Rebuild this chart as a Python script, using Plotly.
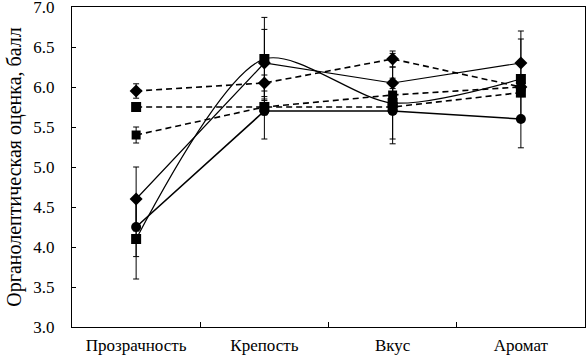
import plotly.graph_objects as go

categories = ["Прозрачность", "Крепость", "Вкус", "Аромат"]

s1_diamond_solid = [4.6, 6.3, 6.05, 6.3]
s1_err = [0.4, 0.42, 0.37, 0.4]

s2_square_spline = [4.1, 6.35, 5.8, 6.1]
s2_err = [0.5, 0.52, 0.45, 0.5]

s3_circle_solid = [4.25, 5.7, 5.7, 5.6]
s3_err = [0.37, 0.35, 0.41, 0.36]

d1_diamond_dash = [5.95, 6.05, 6.35, 6.0]
d1_err = [0.09, 0.1, 0.1, 0.1]

d2_square_dash = [5.75, 5.75, 5.75, 5.93]
d2_err = [0.0, 0.05, 0.05, 0.05]

d3_circle_dash = [5.4, 5.75, 5.9, 6.0]
d3_err = [0.1, 0.1, 0.08, 0.08]

FONT = "Liberation Serif"

def err(vals):
    return dict(type="data", array=vals, visible=True, color="black", thickness=1, width=3)

series = [
    (s2_square_spline, s2_err, "square", 10, "solid", 1.2, "spline", 0.8),
    (s1_diamond_solid, s1_err, "diamond", 10, "solid", 1.2, "linear", 1),
    (s3_circle_solid, s3_err, "circle", 10, "solid", 1.6, "linear", 1),
    (d1_diamond_dash, d1_err, "diamond", 10, "6px,4px", 1.6, "linear", 1),
    (d2_square_dash, d2_err, "square", 10, "6px,4px", 1.6, "linear", 1),
    (d3_circle_dash, d3_err, "square", 9, "6px,4px", 1.6, "linear", 1),
]

fig = go.Figure()
for vals, e, sym, size, dash, lw, shape, sm in series:
    fig.add_trace(go.Scatter(
        x=categories, y=vals, mode="lines+markers",
        line=dict(color="black", width=lw, dash=dash, shape=shape, smoothing=sm),
        marker=dict(symbol=sym, size=size, color="black"),
        error_y=err(e),
        showlegend=False,
        cliponaxis=False,
    ))

fig.update_layout(
    width=586, height=360,
    margin=dict(l=72, r=1, t=7, b=33, autoexpand=False),
    paper_bgcolor="white", plot_bgcolor="white",
    font=dict(family=FONT, size=18, color="black"),
)
fig.update_xaxes(
    type="category", range=[-0.5, 3.5], automargin=False,
    showline=True, linecolor="black", linewidth=1, mirror=True,
    showgrid=False, zeroline=False,
    ticks="inside", tickson="boundaries", ticklen=5, tickcolor="black",
    tickfont=dict(family=FONT, size=17), ticklabelstandoff=3,
)
fig.update_yaxes(
    range=[3.0, 7.0], dtick=0.5, tickformat=".1f", automargin=False,
    showline=True, linecolor="black", linewidth=1, mirror=True,
    showgrid=False, zeroline=False,
    ticks="inside", ticklen=4, tickcolor="black",
    tickfont=dict(family=FONT, size=17), ticklabelstandoff=13,
    ticklabeloverflow="allow",
    title=dict(text="Органолептическая оценка, балл", font=dict(family=FONT, size=20), standoff=6),
)

fig.write_html(
    "out.html",
    config={"displayModeBar": False},
    post_script="document.body.style.margin='0px';document.body.style.overflow='hidden';",
)
